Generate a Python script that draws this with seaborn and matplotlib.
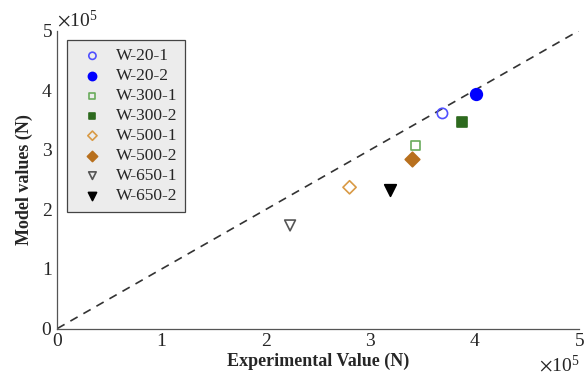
import pandas as pd
import seaborn as sns
import matplotlib.pyplot as plt
from matplotlib.ticker import ScalarFormatter

# values (N)
specimens = ['W-20-1', 'W-20-2', 'W-300-1', 'W-300-2',
             'W-500-1', 'W-500-2', 'W-650-1', 'W-650-2']
experimental = [3.69e5, 4.01e5, 3.43e5, 3.88e5, 2.80e5, 3.40e5, 2.23e5, 3.19e5]
model = [3.61e5, 3.94e5, 3.07e5, 3.46e5, 2.37e5, 2.85e5, 1.73e5, 2.33e5]
markers = ['o', 'o', 's', 's', 'D', 'D', 'v', 'v']
edge_colors = ['#5050ff', '#0000ff', '#6aac5c', '#2d6a1e',
               '#d99a45', '#b8701e', '#555555', '#000000']
face_colors = ['none', '#0000ff', 'none', '#2d6a1e',
               'none', '#b8701e', 'none', '#000000']
sizes = [55, 70, 40, 45, 45, 55, 60, 70]
diag = [0, 5e5]

df = pd.DataFrame({'Specimen': specimens, 'Experimental': experimental, 'Model': model})

sns.set_style('white')
plt.rcParams['font.family'] = ['Liberation Serif', 'DejaVu Serif']
plt.rcParams['mathtext.fontset'] = 'stix'

fig, ax = plt.subplots(figsize=(5.85, 3.82), dpi=100)

ax.plot(diag, diag, linestyle=(0, (5, 4)), color='#333333', linewidth=1.2, zorder=1)

for i, name in enumerate(specimens):
    sns.scatterplot(data=df[df['Specimen'] == name], x='Experimental', y='Model',
                    marker=markers[i], s=sizes[i], ax=ax, label=name,
                    facecolor=face_colors[i], edgecolor=edge_colors[i],
                    linewidth=1.2, zorder=3)

ax.set_xlim(0, 5e5)
ax.set_ylim(0, 5e5)
ax.set_xticks([0, 1e5, 2e5, 3e5, 4e5, 5e5])
ax.set_yticks([0, 1e5, 2e5, 3e5, 4e5, 5e5])
for axis in (ax.xaxis, ax.yaxis):
    fmt = ScalarFormatter(useMathText=True)
    fmt.set_powerlimits((0, 0))
    axis.set_major_formatter(fmt)
ax.xaxis.get_offset_text().set_fontsize(14)
ax.yaxis.get_offset_text().set_fontsize(14)

ax.tick_params(direction='in', length=4, labelsize=14, color='#555555')
for side in ('top', 'right'):
    ax.spines[side].set_visible(False)
for side in ('left', 'bottom'):
    ax.spines[side].set_color('#555555')
    ax.spines[side].set_linewidth(0.9)

ax.set_xlabel('Experimental Value (N)', fontsize=13, fontweight='bold', labelpad=2)
ax.set_ylabel('Model values (N)', fontsize=13, fontweight='bold', labelpad=6)

leg = ax.legend(loc='upper left', bbox_to_anchor=(0.019, 0.967), borderaxespad=0,
                fontsize=12.5, markerscale=0.7,
                frameon=True, fancybox=False, facecolor='#ececec', edgecolor='#444444',
                handletextpad=0.36, borderpad=0.45, labelspacing=0.22, handlelength=2.0)
leg.get_frame().set_linewidth(0.9)
leg.get_frame().set_alpha(1)

plt.subplots_adjust(left=0.098, right=0.99, top=0.92, bottom=0.14)
plt.savefig('out.png', dpi=100)
plt.close()
